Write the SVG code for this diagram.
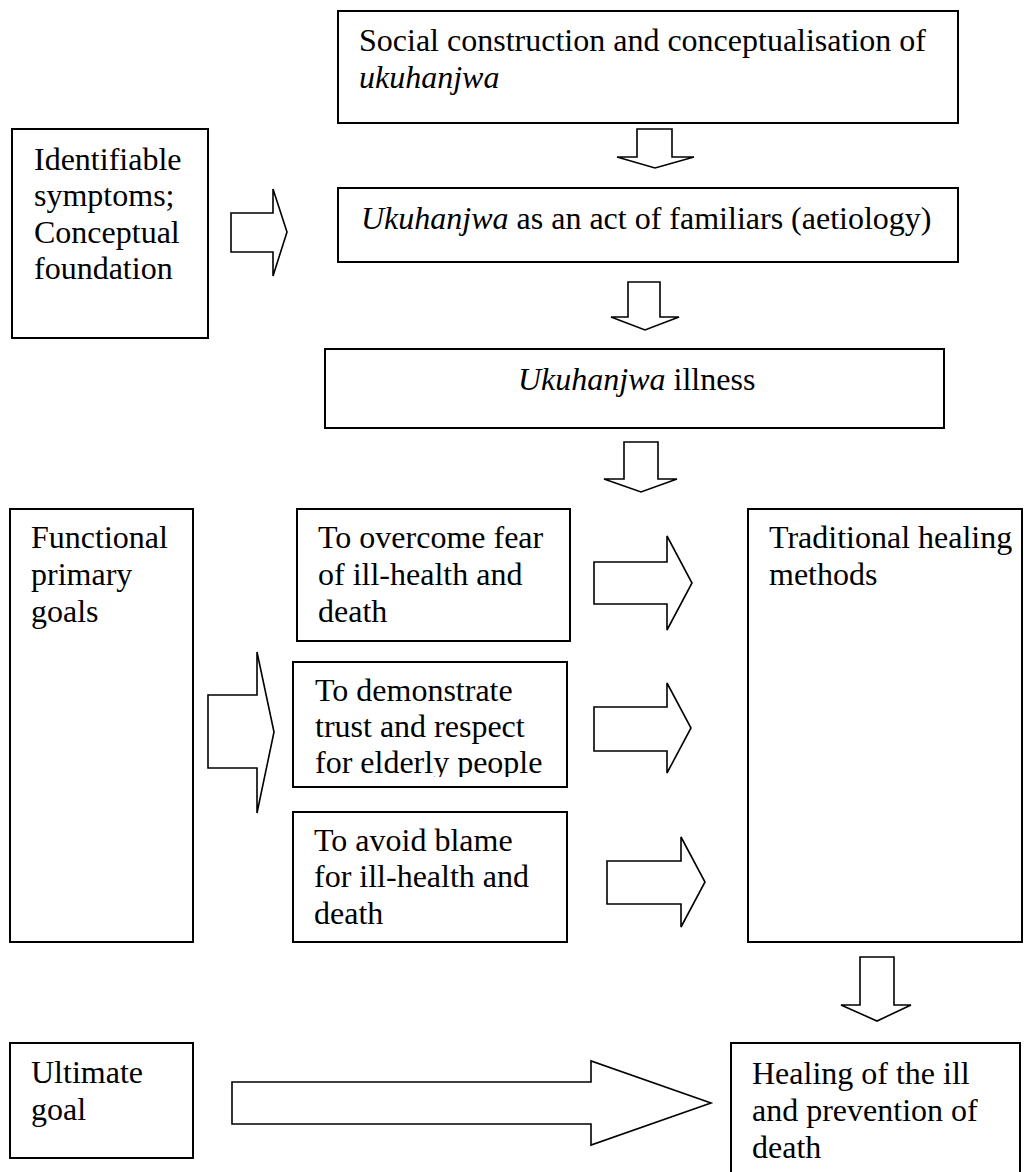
<svg xmlns="http://www.w3.org/2000/svg" width="1024" height="1172" viewBox="0 0 1024 1172">
  <style>
    .box { fill: #ffffff; stroke: #000000; stroke-width: 2; }
    .arrow { fill: #ffffff; stroke: #000000; stroke-width: 1.6; stroke-linejoin: miter; }
    text { font-family: "Liberation Serif", "Times New Roman", serif; font-size: 32px; fill: #000000; }
    .it { font-style: italic; }
  </style>
  <defs>
    <clipPath id="clip-demonstrate">
      <rect x="293" y="662" width="274" height="115"/>
    </clipPath>
  </defs>
  <rect x="0" y="0" width="1024" height="1172" fill="#ffffff"/>

  <g id="node-social-construction">
    <rect class="box" x="338" y="11" width="620" height="112"/>
    <text x="359" y="51">Social construction and conceptualisation of</text>
    <text x="359" y="88" class="it">ukuhanjwa</text>
  </g>

  <g id="node-identifiable-symptoms">
    <rect class="box" x="12" y="129" width="196" height="209"/>
    <text x="34" y="170">Identifiable</text>
    <text x="34" y="206">symptoms;</text>
    <text x="34" y="243">Conceptual</text>
    <text x="34" y="279">foundation</text>
  </g>

  <g id="node-aetiology">
    <rect class="box" x="338" y="188" width="620" height="74"/>
    <text x="361" y="229"><tspan class="it">Ukuhanjwa</tspan> as an act of familiars (aetiology)</text>
  </g>

  <g id="node-illness">
    <rect class="box" x="325" y="349" width="619" height="79"/>
    <text x="518" y="390"><tspan class="it">Ukuhanjwa</tspan> illness</text>
  </g>

  <g id="node-functional-goals">
    <rect class="box" x="10" y="509" width="183" height="433"/>
    <text x="31" y="548">Functional</text>
    <text x="31" y="585">primary</text>
    <text x="31" y="622">goals</text>
  </g>

  <g id="node-overcome-fear">
    <rect class="box" x="297" y="509" width="273" height="132"/>
    <text x="318" y="548">To overcome fear</text>
    <text x="318" y="585">of ill-health and</text>
    <text x="318" y="622">death</text>
  </g>

  <g id="node-demonstrate-trust">
    <rect class="box" x="293" y="662" width="274" height="125"/>
    <g clip-path="url(#clip-demonstrate)">
      <text x="315" y="701">To demonstrate</text>
      <text x="315" y="737">trust and respect</text>
      <text x="315" y="773">for elderly people</text>
    </g>
  </g>

  <g id="node-avoid-blame">
    <rect class="box" x="293" y="812" width="274" height="130"/>
    <text x="314" y="851">To avoid blame</text>
    <text x="314" y="887">for ill-health and</text>
    <text x="314" y="924">death</text>
  </g>

  <g id="node-traditional-healing">
    <rect class="box" x="748" y="509" width="274" height="433"/>
    <text x="769" y="548">Traditional healing</text>
    <text x="769" y="585">methods</text>
  </g>

  <g id="node-ultimate-goal">
    <rect class="box" x="10" y="1043" width="183" height="115"/>
    <text x="31" y="1083">Ultimate</text>
    <text x="31" y="1120">goal</text>
  </g>

  <g id="node-healing">
    <rect class="box" x="731" y="1043" width="289" height="140"/>
    <text x="752" y="1084">Healing of the ill</text>
    <text x="752" y="1121">and prevention of</text>
    <text x="752" y="1158">death</text>
  </g>

  <!-- block arrows -->
  <g id="connectors">
    <polygon class="arrow" points="637,129 672,129 672,157 694,157 655,168 617,157 637,157"/>
    <polygon class="arrow" points="628,282 660,282 660,317 679,317 645,330 611,317 628,317"/>
    <polygon class="arrow" points="624,442 658,442 658,479 677,479 641,492 604,479 624,479"/>
    <polygon class="arrow" points="860,957 894,957 894,1005 911,1005 877,1021 841,1005 860,1005"/>

    <polygon class="arrow" points="231,213 273,213 273,189 287,232 273,276 273,252 231,252"/>
    <polygon class="arrow" points="208,695 257,695 257,652 274,732 257,813 257,768 208,768"/>
    <polygon class="arrow" points="594,562 667,562 667,536 692,583 667,630 667,604 594,604"/>
    <polygon class="arrow" points="594,707 667,707 667,683 691,728 667,773 667,751 594,751"/>
    <polygon class="arrow" points="607,861 681,861 681,837 705,882 681,927 681,904 607,904"/>
    <polygon class="arrow" points="232,1082 591,1082 591,1061 711,1103 591,1145 591,1124 232,1124"/>
  </g>
</svg>
